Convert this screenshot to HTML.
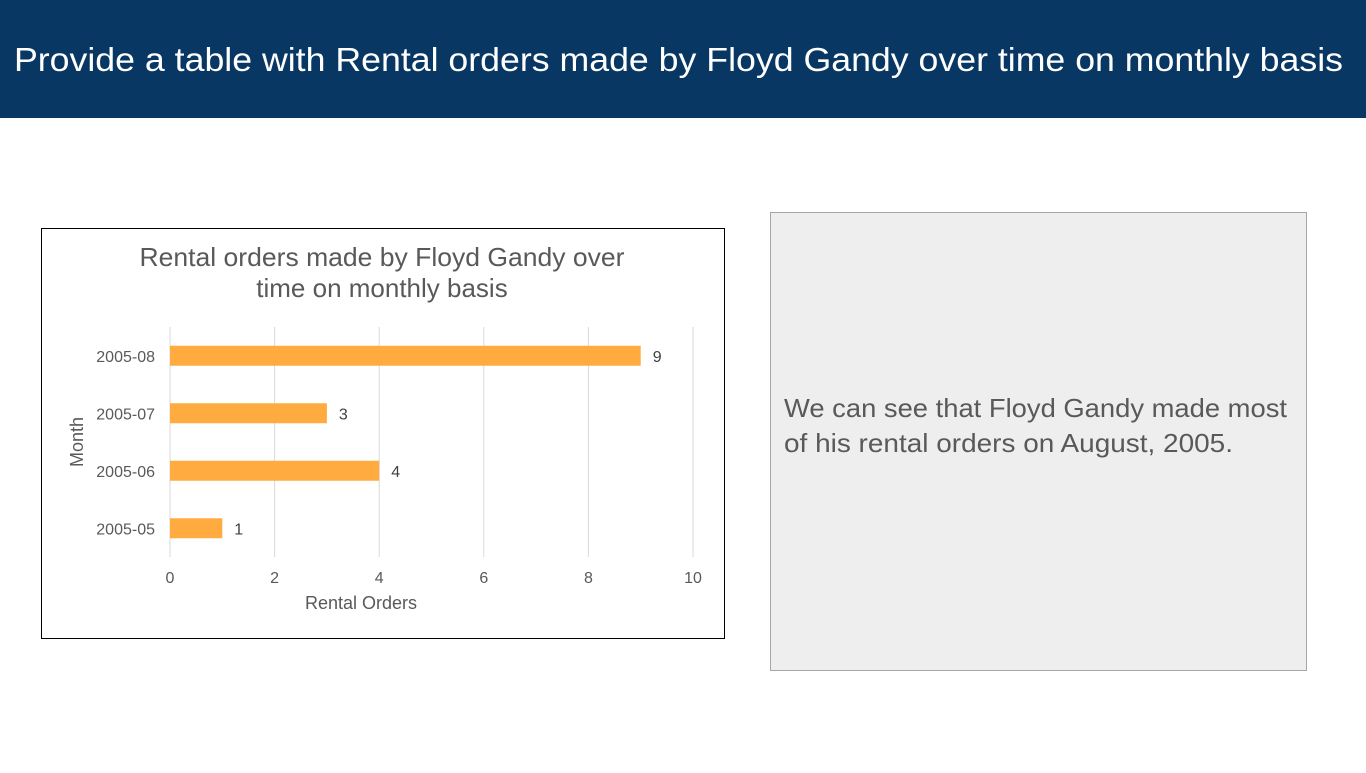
<!DOCTYPE html>
<html><head><meta charset="utf-8"><style>
body{margin:0;width:1366px;height:768px;background:#fff;overflow:hidden;font-family:"Liberation Sans",sans-serif}
</style></head><body>
<svg width="1366" height="768" xmlns="http://www.w3.org/2000/svg">
<rect x="0" y="0" width="1366" height="118" fill="#083763"/>
<text x="14" y="71" font-size="33" fill="#fff" textLength="1329" lengthAdjust="spacingAndGlyphs" font-family="Liberation Sans, sans-serif">Provide a table with Rental orders made by Floyd Gandy over time on monthly basis</text>
<rect x="41.5" y="228.5" width="683" height="410" fill="#fff" stroke="#000"/>
<text x="382" y="266" font-size="26" fill="#595959" text-anchor="middle" textLength="485" lengthAdjust="spacingAndGlyphs">Rental orders made by Floyd Gandy over</text>
<text x="382" y="297" font-size="26" fill="#595959" text-anchor="middle">time on monthly basis</text>
<g id="chart"></g>
<text x="361" y="609" font-size="18" fill="#595959" text-anchor="middle">Rental Orders</text>
<text transform="translate(83,442) rotate(-90)" font-size="18" fill="#595959" text-anchor="middle">Month</text>
<rect x="770.5" y="212.5" width="536" height="458" fill="#eeeeee" stroke="#a6a6a6"/>
<text x="784" y="417" font-size="26" fill="#595959" textLength="503" lengthAdjust="spacingAndGlyphs">We can see that Floyd Gandy made most</text>
<text x="784" y="452" font-size="26" fill="#595959" textLength="449" lengthAdjust="spacingAndGlyphs">of his rental orders on August, 2005.</text>
</svg>
<script>
const categories=["2005-08","2005-07","2005-06","2005-05"];
const values=[9,3,4,1];
const xTicks=[0,2,4,6,8,10];
const NS="http://www.w3.org/2000/svg";
const g=document.getElementById('chart');
const px0=170,px1=693,plotTop=327,plotBot=557,xMax=10;
const xs=v=>px0+(px1-px0)*v/xMax;
const band=(plotBot-plotTop)/categories.length;
const yc=i=>plotTop+band*(i+0.5);
function mk(t,a){const e=document.createElementNS(NS,t);for(const k in a)e.setAttribute(k,a[k]);g.appendChild(e);return e;}
xTicks.forEach(t=>{
 const l=mk('line',{x1:xs(t),x2:xs(t),y1:plotTop,y2:plotBot,stroke:'#d9d9d9','stroke-width':1});
 
 
 const tx=mk('text',{x:xs(t),y:583,'font-size':16,fill:'#595959','text-anchor':'middle'});tx.textContent=t;
 
 
});
categories.forEach((c,i)=>{
 const y=yc(i);
 const r=mk('rect',{x:xs(0),y:y-10,width:xs(values[i])-xs(0),height:20,fill:'#ffab40'});
 
 
 const lb=mk('text',{x:155,y:y+6,'font-size':16,fill:'#595959','text-anchor':'end'});lb.textContent=c;
 
 
 const v=mk('text',{x:xs(values[i])+12,y:y+6,'font-size':16,fill:'#404040'});v.textContent=values[i];
 
 
});
</script>
</body></html>
